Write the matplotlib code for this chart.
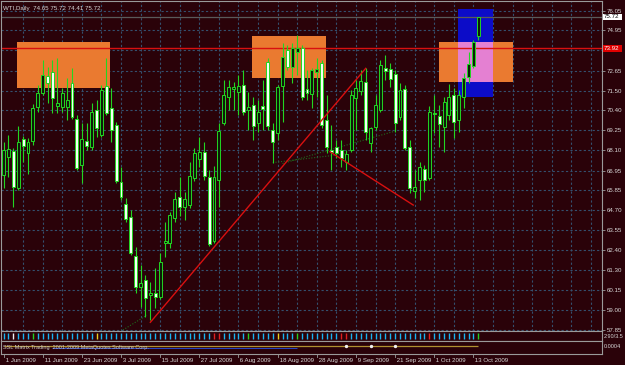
import matplotlib
matplotlib.use('Agg')
import matplotlib.pyplot as plt
from matplotlib.patches import Rectangle
import matplotlib.transforms as mtransforms

# ---------------- data ----------------
chart_title = 'WTI,Daily  74.65 75.72 74.41 75.72'

opens = [66.70, 67.72, 68.07, 65.95, 68.75, 67.95, 68.64, 70.58, 71.37, 72.34,
         72.57, 70.63, 70.58, 70.58, 71.94, 69.89, 67.27, 68.64, 68.29, 70.40,
         68.98, 71.77, 70.52, 69.55, 66.30, 65.04, 64.30, 62.07, 60.31, 60.71,
         59.85, 59.96, 59.74, 62.82, 62.82, 64.24, 65.44, 64.87, 64.98, 66.53,
         67.61, 68.01, 66.58, 62.93, 66.41, 69.66, 71.14, 71.60, 71.43, 71.83,
         70.40, 70.69, 69.66, 70.63, 73.14, 69.26, 69.09, 71.77, 73.83, 72.86,
         73.71, 73.94, 71.60, 71.32, 72.57, 73.09, 69.83, 68.12, 68.29, 68.12,
         67.44, 68.12, 71.09, 71.49, 72.00, 68.52, 69.43, 70.40, 72.80, 72.74,
         72.46, 70.01, 71.60, 68.29, 65.78, 66.41, 67.04, 66.53, 70.23, 70.06,
         69.43, 70.12, 71.26, 69.83, 71.14, 72.29, 72.91, 74.65]
highs = [68.58, 68.98, 68.24, 69.49, 68.92, 68.81, 70.75, 71.83, 73.26, 72.86,
         73.26, 73.37, 71.66, 72.23, 72.80, 70.12, 69.66, 69.66, 70.80, 70.98,
         71.83, 73.37, 71.66, 69.72, 67.15, 65.38, 64.70, 62.59, 61.56, 60.99,
         60.60, 61.39, 62.25, 64.01, 64.59, 65.73, 66.58, 65.73, 67.44, 68.24,
         68.86, 68.58, 66.98, 67.21, 69.66, 72.12, 72.12, 72.00, 72.40, 72.69,
         71.43, 71.14, 70.98, 72.12, 73.37, 69.66, 71.83, 74.23, 74.11, 74.23,
         74.68, 74.11, 72.69, 72.80, 73.37, 73.26, 71.26, 69.55, 68.69, 68.69,
         68.12, 71.55, 72.12, 72.69, 72.80, 69.43, 71.26, 73.26, 73.54, 73.09,
         72.69, 71.94, 71.83, 68.69, 66.98, 67.44, 67.27, 70.63, 71.26, 70.69,
         71.14, 71.89, 71.66, 71.55, 72.52, 73.71, 74.40, 75.72]
lows = [65.95, 66.58, 64.87, 65.84, 67.44, 66.75, 68.41, 70.29, 71.26, 70.80,
        70.23, 70.23, 70.29, 69.83, 69.89, 66.98, 66.24, 68.12, 68.12, 68.86,
        68.86, 70.12, 68.58, 66.24, 65.27, 64.01, 62.13, 59.96, 59.17, 58.59,
        58.42, 59.11, 59.62, 62.02, 62.53, 64.01, 64.36, 64.13, 64.81, 66.35,
        67.15, 66.41, 62.65, 62.82, 64.87, 69.55, 70.40, 70.40, 70.12, 70.12,
        69.26, 68.69, 69.15, 69.26, 69.26, 67.38, 68.69, 69.72, 72.69, 71.94,
        72.40, 70.98, 70.98, 70.52, 71.14, 69.38, 67.95, 66.98, 67.67, 67.15,
        66.98, 68.01, 69.26, 71.26, 68.69, 68.01, 69.26, 70.29, 72.12, 71.72,
        69.15, 69.83, 68.12, 65.67, 65.38, 65.27, 65.73, 66.41, 69.09, 68.29,
        68.01, 69.83, 68.81, 69.15, 70.52, 71.94, 72.80, 74.41]
closes = [68.12, 68.18, 66.01, 68.58, 68.35, 68.58, 70.52, 71.37, 72.40, 71.94,
          71.09, 70.80, 71.37, 70.98, 70.01, 67.10, 68.75, 68.35, 70.29, 69.38,
          71.55, 70.23, 69.26, 66.35, 65.44, 64.19, 62.25, 60.31, 60.54, 59.68,
          59.96, 59.74, 61.73, 62.93, 64.41, 65.33, 64.87, 65.33, 66.64, 67.95,
          68.01, 66.64, 62.76, 66.58, 69.21, 71.26, 71.72, 71.72, 71.77, 70.29,
          70.58, 69.49, 70.29, 70.46, 69.49, 68.58, 71.72, 73.43, 72.86, 73.94,
          73.94, 71.14, 71.37, 72.69, 72.74, 69.55, 68.29, 68.01, 67.95, 67.67,
          67.89, 71.26, 71.66, 72.06, 69.15, 69.38, 70.69, 72.97, 72.63, 72.17,
          69.66, 71.55, 68.24, 65.95, 66.01, 67.15, 66.41, 70.29, 70.18, 69.61,
          70.86, 71.14, 69.72, 71.26, 72.23, 73.03, 74.28, 75.72]

date_labels = ['1 Jun 2009', '11 Jun 2009', '23 Jun 2009', '3 Jul 2009', '15 Jul 2009',
               '27 Jul 2009', '6 Aug 2009', '18 Aug 2009', '28 Aug 2009', '9 Sep 2009',
               '21 Sep 2009', '1 Oct 2009', '13 Oct 2009']
date_label_bars = [0, 8, 16, 24, 32, 40, 48, 56, 64, 72, 80, 88, 96]

# the 73.80 level label is hidden under the red price label in the reference
price_ticks = [76.05, 74.95, 73.80, 72.65, 71.50, 70.40, 69.25, 68.10, 66.95,
               65.85, 64.70, 63.55, 62.40, 61.30, 60.15, 59.00, 57.85]
price_tick_labels = ['76.05', '74.95', '', '72.65', '71.50', '70.40', '69.25', '68.10',
                     '66.95', '65.85', '64.70', '63.55', '62.40', '61.30', '60.15', '59.00', '57.85']

current_price = 75.72
current_price_label = '75.72'
ref_price = 73.92
ref_price_label = '73.92'

# drawn objects (bar index, price)
zone1_bars, zone1_prices = [2.7, 21.8], [71.67, 74.30]
zone2_bars, zone2_prices = [50.8, 65.9], [72.21, 74.62]
zone3_bars, zone3_prices = [89.0, 104.0], [72.02, 74.30]
blue_bars, blue_prices = [92.9, 100.1], [71.16, 76.15]
trend1_bars, trend1_prices = [30, 74], [58.29, 72.78]
trend2_bars, trend2_prices = [66.7, 83.7], [68.02, 64.98]
dot1_bars, dot1_prices = [55, 70], [67.40, 67.90]
dot2_bars, dot2_prices = [57, 80], [67.35, 69.20]
dot3_bars, dot3_prices = [24.4, 29.3], [57.85, 58.70]

# sub-window signal states (0 cyan, 1 green, 2 red, 3 yellow, 4 white)
signal_states = [0, 0, 4, 0, 0, 0, 1, 0, 0, 0,
                 0, 0, 0, 0, 0, 0, 0, 0, 0, 3,
                 0, 0, 0, 0, 0, 0, 0, 0, 0, 0,
                 0, 0, 0, 0, 0, 0, 0, 0, 0, 0,
                 0, 0, 0, 2, 2, 0, 0, 0, 0, 0,
                 1, 0, 0, 0, 0, 0, 3, 0, 0, 0,
                 1, 0, 0, 0, 0, 0, 0, 0, 0, 2,
                 2, 0, 0, 0, 0, 0, 0, 0, 0, 0,
                 0, 0, 0, 0, 0, 0, 0, 2, 0, 0,
                 0, 0, 0, 0, 0, 0, 0, 1]
sub1_label = '2.90/3.5'
sub2_label = '0.0004'
sub2_text = 'SSL Matrix Trading  2001-2009 MetaQuotes Software Corp.'
sub2_marker_bars = [70, 75, 80]

# ---------------- style ----------------
W, H, DPI = 625, 365, 100
BG = '#2a0209'
GRID = '#34506e'
FRAME = '#9a9a9a'
TXT = '#d8d8d8'
GREEN = '#22d622'
BEAR_FILL = '#f4fff4'
BULL_FILL = '#0e1a08'
ORANGE = '#ea7a30'
BLUE = '#0c0cc8'
PINK = '#e480d2'
RED = '#d81010'
FONT = 'Liberation Sans'
FS = 4.4
sig_colors = ['#19b4f0', '#22d022', '#e02020', '#e8d020', '#f0f0f0']

fig = plt.figure(figsize=(W / DPI, H / DPI), dpi=DPI, facecolor=BG)


def px_axes(x0, y0, x1, y1, **kw):
    return fig.add_axes([x0 / W, 1 - y1 / H, (x1 - x0) / W, (y1 - y0) / H], **kw)


# bar i at pixel 3.5 + 4.895*i ; price p at pixel (76.678 - p)/0.057053
bar_px0, bar_step = 3.5, 4.895
xmin, xmax = (1 - bar_px0) / bar_step, (602 - bar_px0) / bar_step
ytop, ybot = 76.678 - 0.057053 * 1, 76.678 - 0.057053 * 331

ax = px_axes(1, 1, 602, 331)
ax.set_facecolor(BG)
ax.set_xlim(xmin, xmax)
ax.set_ylim(ybot, ytop)
for s in ax.spines.values():
    s.set_color(FRAME)
    s.set_linewidth(0.8)

ax.yaxis.tick_right()
ax.set_yticks(price_ticks)
ax.set_yticklabels(price_tick_labels, fontsize=FS, color=TXT, family=FONT)
ax.tick_params(axis='y', length=2, width=0.6, color=FRAME, pad=1.2)
ax.set_xticks(list(range(4, 124, 4)))
ax.tick_params(axis='x', length=0, labelbottom=False)
ax.grid(True, color=GRID, linestyle=(0, (2, 2)), linewidth=0.8, zorder=0)
ax.set_axisbelow(True)

# zones
def zone(bars, prices, color, z):
    ax.add_patch(Rectangle((bars[0], prices[0]), bars[1] - bars[0], prices[1] - prices[0],
                           facecolor=color, edgecolor='none', zorder=z))

zone(zone1_bars, zone1_prices, ORANGE, 1)
zone(zone2_bars, zone2_prices, ORANGE, 1)
zone(zone3_bars, zone3_prices, ORANGE, 1)
zone(blue_bars, blue_prices, BLUE, 1.1)
zone([blue_bars[0], blue_bars[1]], zone3_prices, PINK, 1.2)

# horizontal lines
ax.axhline(ref_price, color=RED, lw=1.0, zorder=2)
ax.axhline(current_price, color='#5a5a5a', lw=0.9, zorder=2)

# dotted objects
for bx, py in [(dot1_bars, dot1_prices), (dot2_bars, dot2_prices), (dot3_bars, dot3_prices)]:
    ax.plot(bx, py, color='#1f6a1f', lw=0.8, linestyle=(0, (1, 1.5)), zorder=2)

# candles
for i, (o, h, l, c) in enumerate(zip(opens, highs, lows, closes)):
    ax.vlines(i, l, h, color=GREEN, lw=0.8, zorder=3)
    lo, hi = min(o, c), max(o, c)
    fill = BEAR_FILL if c < o else BULL_FILL
    if hi - lo < 0.03:
        ax.hlines(o, i - 0.3, i + 0.3, color=GREEN, lw=0.9, zorder=4)
    else:
        ax.add_patch(Rectangle((i - 0.3, lo), 0.6, hi - lo, facecolor=fill,
                               edgecolor=GREEN, lw=0.7, zorder=4))

# trend lines
ax.plot(trend1_bars, trend1_prices, color=RED, lw=1.0, zorder=5)
ax.plot(trend2_bars, trend2_prices, color=RED, lw=1.0, zorder=5)

ax.text(0.004, 0.985, chart_title, transform=ax.transAxes, ha='left', va='top',
        fontsize=FS, color=TXT, family=FONT, zorder=6)

# ---------------- sub windows ----------------
bars = list(range(len(opens)))

ax1 = px_axes(1, 331, 602, 341)
ax1.set_facecolor(BG)
ax1.set_xlim(xmin, xmax)
ax1.set_ylim(0, 1)
ax1.set_xticks([]); ax1.set_yticks([])
for s in ax1.spines.values():
    s.set_color(FRAME); s.set_linewidth(0.8)
ax1.vlines(bars, 0.25, 0.85, colors=[sig_colors[s] for s in signal_states], lw=1.0)

ax2 = px_axes(1, 341, 602, 354)
ax2.set_facecolor(BG)
ax2.set_xlim(xmin, xmax)
ax2.set_ylim(0, 1)
ax2.set_xticks([]); ax2.set_yticks([])
for s in ax2.spines.values():
    s.set_color(FRAME); s.set_linewidth(0.8)
ax2.hlines(0.62, 0, len(opens) - 1, color='#b09030', lw=0.9)
ax2.hlines(0.45, 10, 60, color='#2848c8', lw=0.7)
ax2.scatter(sub2_marker_bars, [0.62] * len(sub2_marker_bars), s=2, color='#f0f0f0', zorder=3)
ax2.text(0.004, 0.5, sub2_text, transform=ax2.transAxes, ha='left', va='center',
         fontsize=4.0, color='#c8c8c8', family=FONT)

# ---------------- overlay (pixel coords) ----------------
ov = fig.add_axes([0, 0, 1, 1], facecolor='none')
ov.set_xlim(0, W); ov.set_ylim(H, 0); ov.axis('off')

# right-hand labels
ov.add_patch(Rectangle((603, 14), 19, 6, facecolor='#ffffff', edgecolor='none'))
ov.text(604, 17, current_price_label, fontsize=FS, color='#000000', family=FONT, va='center', ha='left')
ov.add_patch(Rectangle((603, 45), 19, 7, facecolor='#e00000', edgecolor='none'))
ov.text(604, 48.5, ref_price_label, fontsize=FS, color='#ffffff', family=FONT, va='center', ha='left')
ov.text(604, 337, sub1_label, fontsize=4.0, color=TXT, family=FONT, va='center', ha='left')
ov.text(604, 346, sub2_label, fontsize=4.0, color=TXT, family=FONT, va='center', ha='left')

# date axis
blend = mtransforms.blended_transform_factory(ax.transData, ov.transData)
for b, lab in zip(date_label_bars, date_labels):
    ov.plot([b, b], [354, 357], color=FRAME, lw=0.6, transform=blend, clip_on=False)
    ov.text(b, 360.5, ' ' + lab, transform=blend, fontsize=FS, color=TXT, family=FONT,
            ha='left', va='center', clip_on=False)

fig.savefig('out.png', dpi=DPI, facecolor=BG)
